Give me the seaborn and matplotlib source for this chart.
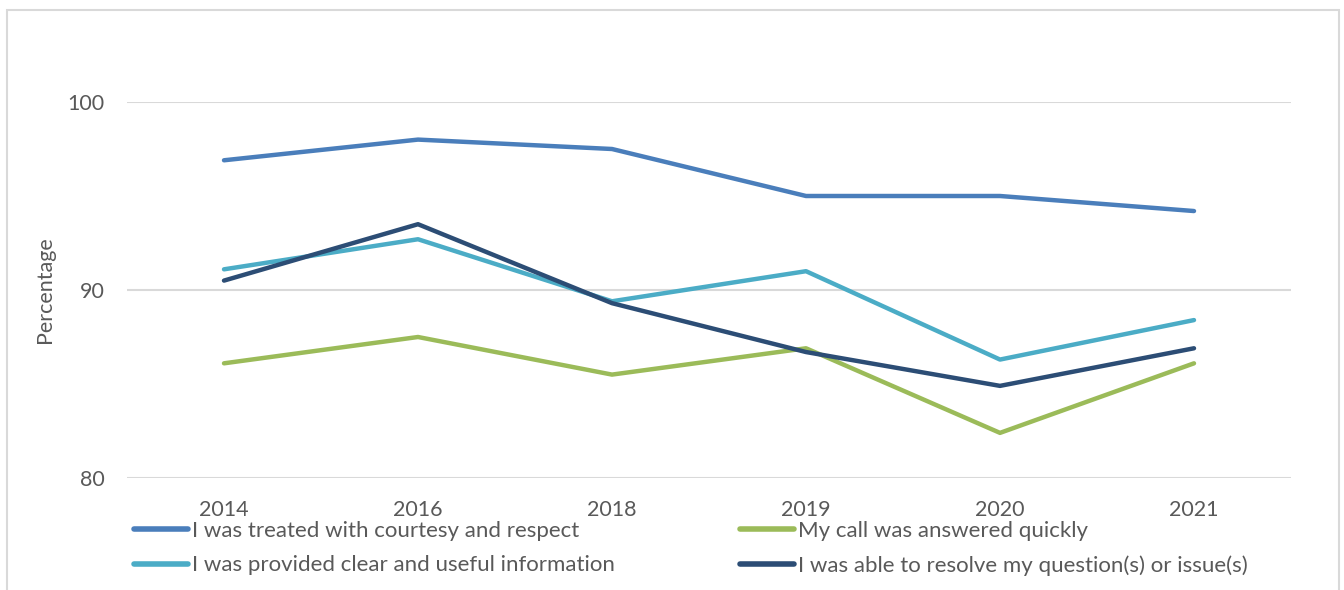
import matplotlib
matplotlib.use("Agg")
import matplotlib.pyplot as plt
import matplotlib.patches as mpatches
import seaborn as sns
import pandas as pd

years = ["2014", "2016", "2018", "2019", "2020", "2021"]
courtesy = [96.9, 98.0, 97.5, 95.0, 95.0, 94.2]
quick = [86.1, 87.5, 85.5, 86.9, 82.4, 86.1]
info = [91.1, 92.7, 89.4, 91.0, 86.3, 88.4]
resolve = [90.5, 93.5, 89.3, 86.7, 84.9, 86.9]

labels = [
    "I was treated with courtesy and respect",
    "My call was answered quickly",
    "I was provided clear and useful information",
    "I was able to resolve my question(s) or issue(s)",
]
colors = ["#4A7EBB", "#9BBB59", "#4BACC6", "#2C4D75"]

df = pd.DataFrame({
    "year": years * 4,
    "pct": courtesy + quick + info + resolve,
    "series": [l for l in labels for _ in years],
})

sns.set_style("white")
plt.rcParams["font.family"] = ["Lato", "DejaVu Sans"]
grey = "#595959"
fs = 15.5

fig = plt.figure(figsize=(13.44, 5.90), dpi=100)
ax = fig.add_axes([127 / 1344, 1 - 478 / 590, (1291 - 127) / 1344, (478 - 102) / 590])

sns.lineplot(
    data=df, x="year", y="pct", hue="series", hue_order=labels,
    palette=dict(zip(labels, colors)), linewidth=3.2, sort=False,
    legend=False, ax=ax,
)
for line in ax.lines:
    line.set_solid_capstyle("round")
    line.set_solid_joinstyle("round")

ax.set_xlim(-0.5, 5.5)
ax.set_ylim(80, 100)
ax.set_yticks([80, 90, 100])
ax.yaxis.grid(True, color="#D9D9D9", linewidth=1.5)
ax.set_axisbelow(True)
for s in ax.spines.values():
    s.set_visible(False)
ax.tick_params(axis="both", length=0, labelsize=fs, colors=grey)
ax.tick_params(axis="y", pad=16)
ax.tick_params(axis="x", pad=16)
ax.set_xlabel("")
ax.set_ylabel("Percentage", fontsize=fs, color=grey, labelpad=9)

# chart-area frame
fig.patches.append(mpatches.Rectangle(
    (7 / 1344, -0.05), (1339 - 7) / 1344, 1.05 - 10 / 590,
    transform=fig.transFigure, fill=False, edgecolor="#D9D9D9", linewidth=1.5,
))

h = {l: plt.Line2D([], [], color=c, linewidth=4, solid_capstyle="round") for l, c in zip(labels, colors)}
common = dict(frameon=False, fontsize=16, handlelength=2.45, handletextpad=0.15,
              labelspacing=0.65, borderpad=0, borderaxespad=0, labelcolor=grey,
              loc="upper left")
fig.legend([h[labels[0]], h[labels[2]]], [labels[0], labels[2]],
           bbox_to_anchor=(134 / 1344, 1 - 521 / 590), **common)
fig.legend([h[labels[1]], h[labels[3]]], [labels[1], labels[3]],
           bbox_to_anchor=(740 / 1344, 1 - 521 / 590), **common)

fig.savefig("out.png", dpi=100, facecolor="white")
